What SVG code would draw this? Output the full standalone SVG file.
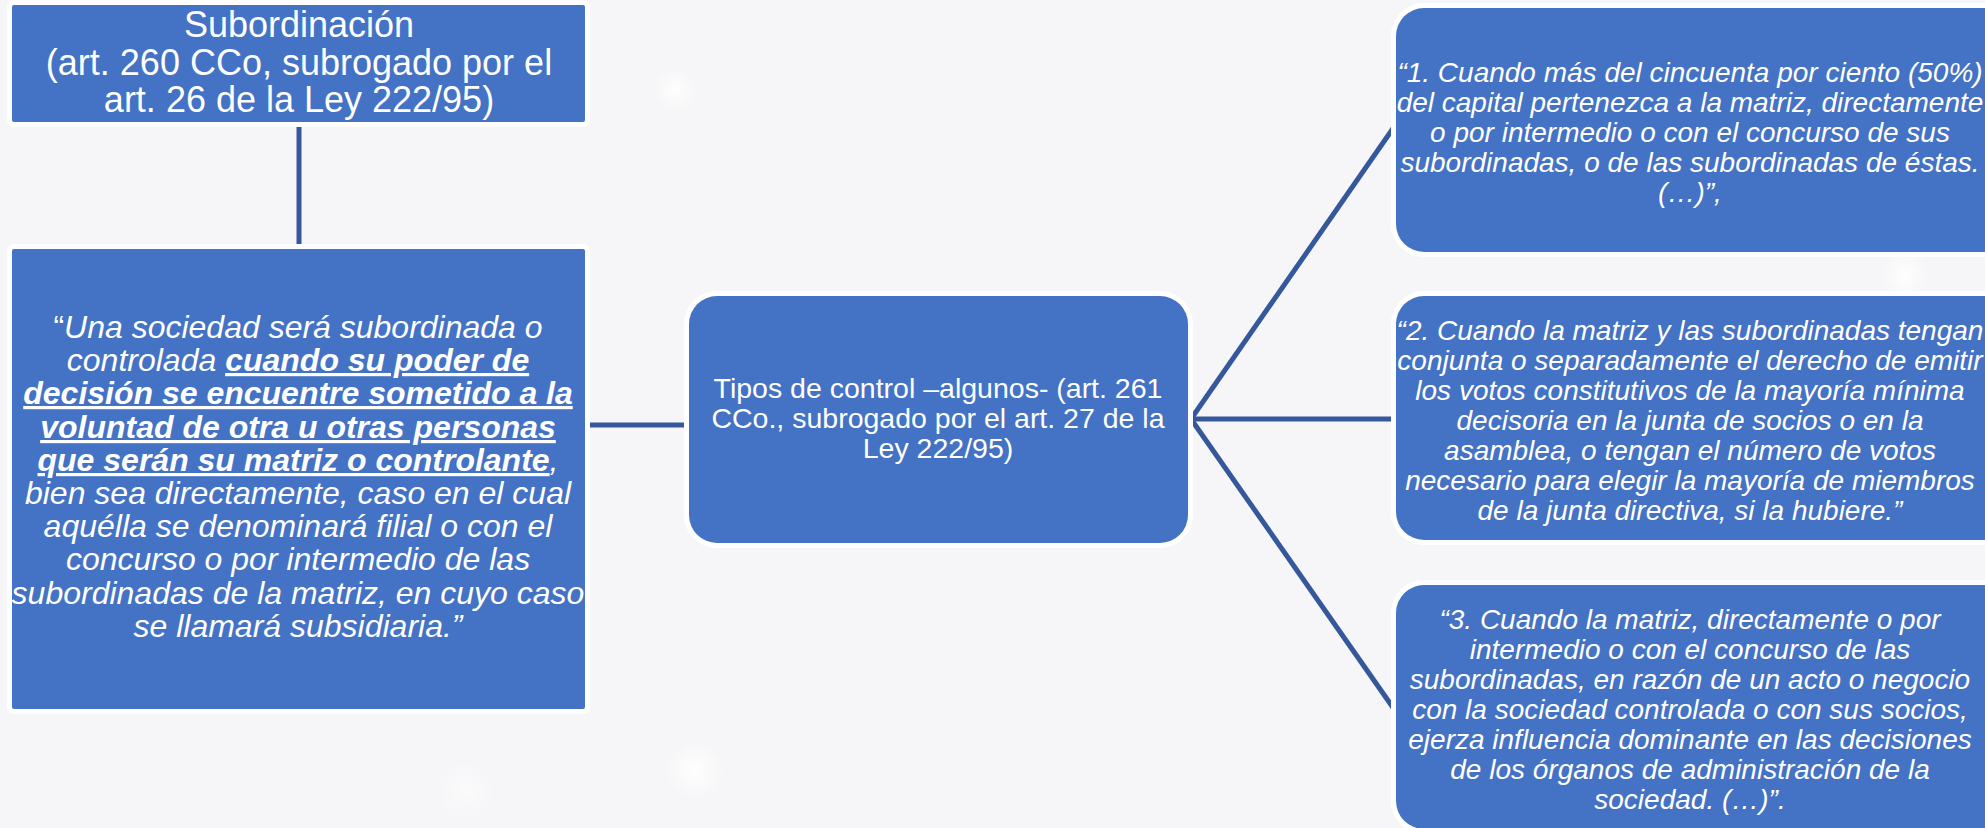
<svg xmlns="http://www.w3.org/2000/svg" width="1985" height="828" viewBox="0 0 1985 828">
<defs>
<radialGradient id="blob"><stop offset="0" stop-color="#ffffff" stop-opacity="0.9"/><stop offset="1" stop-color="#ffffff" stop-opacity="0"/></radialGradient>
<style>
.box{fill:#4472C4;stroke:#ffffff;stroke-width:10;paint-order:stroke;}
.conn{stroke:#35589C;stroke-width:5;fill:none;}
.t{font-family:"Liberation Sans",Arial,sans-serif;fill:#ffffff;text-anchor:middle;}
.big{font-size:36px;}
.lt{font-size:32px;font-style:italic;}
.mid{font-size:28.5px;}
.rt{font-size:28px;font-style:italic;}
.b{font-weight:bold;text-decoration:underline;}
.n{font-style:normal;}
</style>
</defs>
<rect width="1985" height="828" fill="#F6F6F8"/>
<circle cx="695" cy="770" r="30" fill="url(#blob)"/>
<circle cx="1905" cy="275" r="25" fill="url(#blob)"/>
<circle cx="675" cy="90" r="22" fill="url(#blob)"/>
<circle cx="465" cy="790" r="30" fill="url(#blob)" opacity="0.6"/>
<g id="connectors">
<line class="conn" x1="299" y1="125" x2="299" y2="246"/>
<line class="conn" x1="588" y1="425" x2="687" y2="425" stroke-width="6"/>
<line class="conn" x1="1191" y1="419" x2="1394" y2="127"/>
<line class="conn" x1="1191" y1="419" x2="1394" y2="419" stroke-width="6"/>
<line class="conn" x1="1191" y1="419" x2="1394" y2="709"/>
</g>
<g id="node-subordinacion">
<rect class="box" x="12" y="5" width="573" height="117" rx="2"/>
<text class="t big" x="299" y="37">Subordinación</text>
<text class="t big" x="299" y="75">(art. 260 CCo, subrogado por el</text>
<text class="t big" x="299" y="112">art. 26 de la Ley 222/95)</text>
</g>
<g id="node-definicion">
<rect class="box" x="12" y="249" width="573" height="460" rx="2"/>
<text class="t lt" x="298" y="338"><tspan class="n">“</tspan>Una sociedad será subordinada o</text>
<text class="t lt" x="298" y="371">controlada <tspan class="b">cuando su poder de</tspan></text>
<text class="t lt b" x="298" y="404">decisión se encuentre sometido a la</text>
<text class="t lt b" x="298" y="438">voluntad de otra u otras personas</text>
<text class="t lt" x="298" y="471"><tspan class="b">que serán su matriz o controlante</tspan>,</text>
<text class="t lt" x="298" y="504">bien sea directamente, caso en el cual</text>
<text class="t lt" x="298" y="537">aquélla se denominará filial o con el</text>
<text class="t lt" x="298" y="570">concurso o por intermedio de las</text>
<text class="t lt" x="298" y="604">subordinadas de la matriz, en cuyo caso</text>
<text class="t lt" x="298" y="637">se llamará subsidiaria.”</text>
</g>
<g id="node-tipos">
<rect class="box" x="689" y="296" width="499" height="247" rx="28"/>
<text class="t mid" x="938" y="398">Tipos de control –algunos- (art. 261</text>
<text class="t mid" x="938" y="428">CCo., subrogado por el art. 27 de la</text>
<text class="t mid" x="938" y="458">Ley 222/95)</text>
</g>
<g id="node-control-1">
<rect class="box" x="1396" y="8" width="620" height="244" rx="28"/>
<text class="t rt" x="1690" y="82">“1. Cuando más del cincuenta por ciento (50%)</text>
<text class="t rt" x="1690" y="112">del capital pertenezca a la matriz, directamente</text>
<text class="t rt" x="1690" y="142">o por intermedio o con el concurso de sus</text>
<text class="t rt" x="1690" y="172">subordinadas, o de las subordinadas de éstas.</text>
<text class="t rt" x="1690" y="202">(…)”,</text>
</g>
<g id="node-control-2">
<rect class="box" x="1396" y="296" width="620" height="244" rx="28"/>
<text class="t rt" x="1690" y="340">“2. Cuando la matriz y las subordinadas tengan</text>
<text class="t rt" x="1690" y="370">conjunta o separadamente el derecho de emitir</text>
<text class="t rt" x="1690" y="400">los votos constitutivos de la mayoría mínima</text>
<text class="t rt" x="1690" y="430">decisoria en la junta de socios o en la</text>
<text class="t rt" x="1690" y="460">asamblea, o tengan el número de votos</text>
<text class="t rt" x="1690" y="490">necesario para elegir la mayoría de miembros</text>
<text class="t rt" x="1690" y="520">de la junta directiva, si la hubiere.”</text>
</g>
<g id="node-control-3">
<rect class="box" x="1396" y="585" width="620" height="244" rx="28"/>
<text class="t rt" x="1690" y="629">“3. Cuando la matriz, directamente o por</text>
<text class="t rt" x="1690" y="659">intermedio o con el concurso de las</text>
<text class="t rt" x="1690" y="689">subordinadas, en razón de un acto o negocio</text>
<text class="t rt" x="1690" y="719">con la sociedad controlada o con sus socios,</text>
<text class="t rt" x="1690" y="749">ejerza influencia dominante en las decisiones</text>
<text class="t rt" x="1690" y="779">de los órganos de administración de la</text>
<text class="t rt" x="1690" y="809">sociedad. (…)”.</text>
</g>
</svg>
